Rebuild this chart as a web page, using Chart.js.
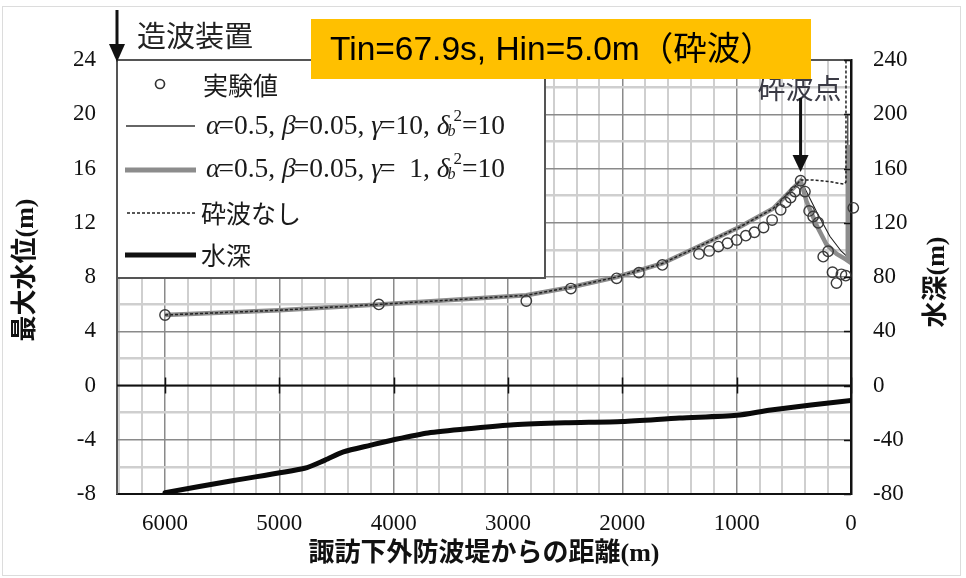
<!DOCTYPE html>
<html><head><meta charset="utf-8">
<script src="https://cdn.jsdelivr.net/npm/chart.js@4.4.1/dist/chart.umd.min.js"></script>
<style>html,body{margin:0;padding:0;background:#fff;} canvas{display:block;}</style>
</head><body>
<canvas id="c" width="966" height="578"></canvas>
<script>
// ---------- data ----------
const expDist  = [6000,4130,2840,2450,2050,1855,1650,1330,1240,1160,1080,1000,920,845,765,690,615,572,528,490,441,403,366,331,287,243,200,162,127,84,46,-20];
const expLevel = [5.2,5.98,6.23,7.15,7.9,8.32,8.89,9.7,9.92,10.24,10.49,10.73,11.05,11.3,11.65,12.2,12.95,13.5,13.86,14.3,15.1,14.3,12.87,12.46,12.0,9.5,9.9,8.35,7.55,8.2,8.1,13.1];

const g10Dist  = [6000,5000,4130,3500,2840,2450,2050,1650,1320,970,680,505,440,390,300,185,85,45,28,28];
const g10Level = [5.2,5.55,5.98,6.3,6.65,7.25,8.0,9.0,10.3,11.7,13.05,14.55,15.1,14.3,12.8,11.0,9.9,9.6,9.45,20.0];

const g1Dist   = [6000,5000,4130,3500,2840,2450,2050,1650,1320,970,680,505,440,390,300,215,125,45,28,28];
const g1Level  = [5.2,5.55,5.98,6.3,6.65,7.25,8.0,9.0,10.3,11.7,13.05,14.55,15.1,13.6,11.8,10.4,9.7,9.3,9.2,17.75];

const nbDist   = [6000,5000,4130,3500,2840,2450,2050,1650,1320,970,680,505,440,330,200,100,60,44,44];
const nbLevel  = [5.2,5.55,5.98,6.3,6.65,7.25,8.0,9.0,10.3,11.7,13.05,14.55,15.15,15.15,15.05,14.9,14.85,15.0,24.0];

const depthDist  = [6000,5400,4780,4600,4440,4200,4000,3700,3300,2950,2500,2000,1500,1000,700,0];
const depthValue = [-79,-70,-61,-55,-49,-44,-40,-35,-31.5,-29,-27.5,-26.5,-24,-22,-18,-11];

const xTickValues  = [6000,5000,4000,3000,2000,1000,0];
const xTickLabels  = ['6000','5000','4000','3000','2000','1000','0'];
const yTickValues  = [24,20,16,12,8,4,0,-4,-8];
const yTickLabels  = ['24','20','16','12','8','4','0','-4','-8'];
const y2TickValues = [240,200,160,120,80,40,0,-40,-80];
const y2TickLabels = ['240','200','160','120','80','40','0','-40','-80'];

const legendLabels = ['実験値','α=0.5, β=0.05, γ=10, δb²=10','α=0.5, β=0.05, γ=  1, δb²=10','砕波なし','水深'];

// ---------- helpers ----------
const pts = (xs, ys) => xs.map((x, i) => ({x: x, y: ys[i]}));
const SERIF = '"Liberation Serif","Noto Sans CJK JP"';
const TICKFONT = {family: SERIF, size: 23};
const MAJ = '#8a8a8a', MIN = '#cfcfcf';

function rich(ctx, x, y, segs) {
  for (const s of segs) {
    ctx.font = s.f;
    ctx.fillText(s.t, x, y + (s.dy || 0));
    x += ctx.measureText(s.t).width + (s.dx || 0);
  }
}
function paramSegs(gammaTxt) {
  const n = '27.5px "Liberation Serif"', it = 'italic 27.5px "Liberation Serif"', sm = 'italic 16px "Liberation Serif"', smn = '17px "Liberation Serif"';
  return [
    {t:'α', f:it, dx:-2},{t:'=0.5, ', f:n},
    {t:'β', f:it, dx:-2},{t:'=0.05, ', f:n},
    {t:'γ', f:it, dx:-2},{t:'='+gammaTxt+', ', f:n},
    {t:'δ', f:it, dx:-2},{t:'b', f:sm, dy:5, dx:-2},{t:'2', f:smn, dy:-10},{t:'=10', f:n}
  ];
}
function arrowDown(ctx, x, y0, y1, hw, hh) {
  ctx.strokeStyle = '#111'; ctx.fillStyle = '#111'; ctx.lineWidth = 3;
  ctx.beginPath(); ctx.moveTo(x, y0); ctx.lineTo(x, y1 - hh + 2); ctx.stroke();
  ctx.beginPath(); ctx.moveTo(x - hw, y1 - hh); ctx.lineTo(x + hw, y1 - hh); ctx.lineTo(x, y1); ctx.closePath(); ctx.fill();
}

const deco = {
  id: 'deco',
  beforeDraw(chart) {
    const ctx = chart.ctx; ctx.save(); ctx.fillStyle = '#fff'; ctx.fillRect(0, 0, chart.width, chart.height); ctx.restore();
  },
  beforeDatasetsDraw(chart) {
    const ctx = chart.ctx, a = chart.chartArea, xs = chart.scales.x, ys = chart.scales.y;
    const y0 = ys.getPixelForValue(0);
    ctx.save();
    ctx.strokeStyle = '#111'; ctx.lineWidth = 2;
    ctx.beginPath(); ctx.moveTo(a.left, y0); ctx.lineTo(a.right, y0); ctx.stroke();
    ctx.lineWidth = 1.5;
    for (const v of xTickValues) {
      const px = Math.round(xs.getPixelForValue(v)) + 0.5;
      ctx.beginPath(); ctx.moveTo(px, y0 - 8); ctx.lineTo(px, y0 + 8); ctx.stroke();
    }
    ctx.restore();
  },
  afterDraw(chart) {
    const ctx = chart.ctx, a = chart.chartArea, xs = chart.scales.x, y2 = chart.scales.y2;
    ctx.save();
    // top border
    ctx.strokeStyle = '#555'; ctx.lineWidth = 2;
    ctx.beginPath(); ctx.moveTo(a.left, a.top); ctx.lineTo(a.right, a.top); ctx.stroke();
    // right axis inward ticks
    ctx.strokeStyle = '#111'; ctx.lineWidth = 1.5;
    for (const v of y2TickValues) {
      const py = Math.round(y2.getPixelForValue(v)) + 0.5;
      ctx.beginPath(); ctx.moveTo(a.right - 7, py); ctx.lineTo(a.right, py); ctx.stroke();
    }
    // legend box
    const L = a.left, T = a.top, R = 545, B = 278;
    ctx.fillStyle = '#fff'; ctx.fillRect(L, T, R - L, B - T);
    ctx.strokeStyle = '#555'; ctx.lineWidth = 2; ctx.strokeRect(L, T, R - L, B - T);
    ctx.fillStyle = '#1a1a1a'; ctx.textBaseline = 'middle'; ctx.textAlign = 'left';
    // marker
    ctx.strokeStyle = '#333'; ctx.lineWidth = 1.7;
    ctx.beginPath(); ctx.arc(160, 84, 4.5, 0, Math.PI * 2); ctx.stroke();
    ctx.font = '25px "Noto Sans CJK JP"'; ctx.fillText(legendLabels[0], 203, 85);
    // thin line
    ctx.strokeStyle = '#333'; ctx.lineWidth = 1.3;
    ctx.beginPath(); ctx.moveTo(126, 126); ctx.lineTo(195, 126); ctx.stroke();
    rich(ctx, 206, 127, paramSegs('10'));
    // thick gray
    ctx.strokeStyle = '#8c8c8c'; ctx.lineWidth = 5;
    ctx.beginPath(); ctx.moveTo(125, 170); ctx.lineTo(196, 170); ctx.stroke();
    rich(ctx, 206, 170, paramSegs('  1'));
    // dashed
    ctx.strokeStyle = '#222'; ctx.lineWidth = 1.3; ctx.setLineDash([3, 2]);
    ctx.beginPath(); ctx.moveTo(127, 213); ctx.lineTo(195, 213); ctx.stroke(); ctx.setLineDash([]);
    ctx.font = '25px "Noto Sans CJK JP"'; ctx.fillText(legendLabels[3], 201, 213);
    // thick black
    ctx.strokeStyle = '#111'; ctx.lineWidth = 5;
    ctx.beginPath(); ctx.moveTo(125, 255); ctx.lineTo(196, 255); ctx.stroke();
    ctx.fillText(legendLabels[4], 201, 255);

    // wave maker arrow + label
    arrowDown(ctx, a.left, 10, a.top + 2, 8, 18);
    ctx.fillStyle = '#222'; ctx.font = '29px "Noto Sans CJK JP"'; ctx.textBaseline = 'middle';
    ctx.fillText('造波装置', 137, 36);

    // breaking point label + arrow
    const bx = xs.getPixelForValue(expDist[20]);
    ctx.fillStyle = '#3a3a44'; ctx.font = '28px "Noto Sans CJK JP"'; ctx.textAlign = 'center';
    ctx.fillText('砕波点', bx - 1, 88);
    arrowDown(ctx, bx, 98, 172, 8, 17);

    // yellow box
    ctx.fillStyle = '#FFC000'; ctx.fillRect(311, 19, 500, 60);
    ctx.fillStyle = '#000'; ctx.textAlign = 'left'; ctx.textBaseline = 'middle';
    ctx.font = '33.5px "Liberation Sans","Noto Sans CJK JP"';
    ctx.fillText('Tin=67.9s, Hin=5.0m（砕波）', 330, 51);

    // axis titles
    ctx.fillStyle = '#111'; ctx.textAlign = 'center'; ctx.textBaseline = 'middle';
    ctx.font = 'bold 26px "Liberation Serif","Noto Sans CJK JP"';
    ctx.save(); ctx.translate(26, 270); ctx.rotate(-Math.PI / 2); ctx.fillText('最大水位(m)', 0, 0); ctx.restore();
    ctx.save(); ctx.translate(937, 282); ctx.rotate(-Math.PI / 2); ctx.fillText('水深(m)', 0, 0); ctx.restore();
    ctx.fillText('諏訪下外防波堤からの距離(m)', 484, 554);

    // outer frame
    ctx.strokeStyle = '#dcdcdc'; ctx.lineWidth = 1;
    ctx.strokeRect(2.5, 6.5, 958, 569);
    ctx.restore();
  }
};

const gridStep = (lo, hi, st) => { const r = []; for (let v = lo; v <= hi + 1e-9; v += st) r.push({value: v}); return r; };

new Chart(document.getElementById('c'), {
  type: 'line',
  data: {
    datasets: [
      {label: legendLabels[0], data: pts(expDist, expLevel), showLine: false, pointRadius: 5.2, pointBorderWidth: 1.4,
       pointBorderColor: '#3a3a3a', pointBackgroundColor: 'rgba(0,0,0,0)', order: 0, yAxisID: 'y', clip: false},
      {label: legendLabels[3], data: pts(nbDist, nbLevel), borderColor: '#222', borderWidth: 1.5, borderDash: [3, 2],
       pointRadius: 0, tension: 0, order: 1, yAxisID: 'y'},
      {label: legendLabels[2], data: pts(g1Dist, g1Level), borderColor: '#8c8c8c', borderWidth: 4.5,
       pointRadius: 0, tension: 0, order: 2, yAxisID: 'y'},
      {label: legendLabels[1], data: pts(g10Dist, g10Level), borderColor: '#222', borderWidth: 1.1,
       pointRadius: 0, tension: 0, order: 3, yAxisID: 'y'},
      {label: legendLabels[4], data: pts(depthDist, depthValue), borderColor: '#0a0a0a', borderWidth: 5,
       pointRadius: 0, tension: 0.25, order: 4, yAxisID: 'y2', borderCapStyle: 'round'}
    ]
  },
  options: {
    responsive: false, animation: false, devicePixelRatio: 1,
    layout: {padding: {top: 60, left: 0, right: 0, bottom: 0}},
    plugins: {legend: {display: false}, tooltip: {enabled: false}},
    scales: {
      x: {
        type: 'linear', reverse: true, min: 0, max: 6420, position: 'bottom',
        afterBuildTicks: s => { s.ticks = gridStep(0, 6400, 200); },
        afterFit: s => { s.height = 84; },
        ticks: {autoSkip: false, maxRotation: 0, padding: 16, color: '#111', font: TICKFONT,
          callback: v => { const i = xTickValues.indexOf(v); return i >= 0 ? xTickLabels[i] : ''; }},
        grid: {drawTicks: false, color: c => (c.tick && c.tick.value % 1000 === 0) ? MAJ : MIN,
          lineWidth: c => (c.tick && c.tick.value % 1000 === 0) ? 1.5 : 2},
        border: {color: '#111', width: 2}
      },
      y: {
        type: 'linear', position: 'left', min: -8, max: 24,
        afterBuildTicks: s => { s.ticks = gridStep(-8, 24, 2); },
        afterFit: s => { s.width = 117; },
        ticks: {autoSkip: false, padding: 21, color: '#111', font: TICKFONT,
          callback: v => { const i = yTickValues.indexOf(v); return i >= 0 ? yTickLabels[i] : ''; }},
        grid: {drawTicks: false, color: c => (c.tick && c.tick.value % 4 === 0) ? MAJ : MIN,
          lineWidth: c => (c.tick && c.tick.value % 4 === 0) ? 1.5 : 2.5},
        border: {color: '#555', width: 2}
      },
      y2: {
        type: 'linear', position: 'right', min: -80, max: 240,
        afterBuildTicks: s => { s.ticks = y2TickValues.map(v => ({value: v})); },
        afterFit: s => { s.width = 115; },
        ticks: {autoSkip: false, padding: 22, color: '#111', font: TICKFONT,
          callback: v => { const i = y2TickValues.indexOf(v); return i >= 0 ? y2TickLabels[i] : ''; }},
        grid: {display: false, drawTicks: false},
        border: {color: '#111', width: 2.5}
      }
    }
  },
  plugins: [deco]
});
</script>
</body></html>
